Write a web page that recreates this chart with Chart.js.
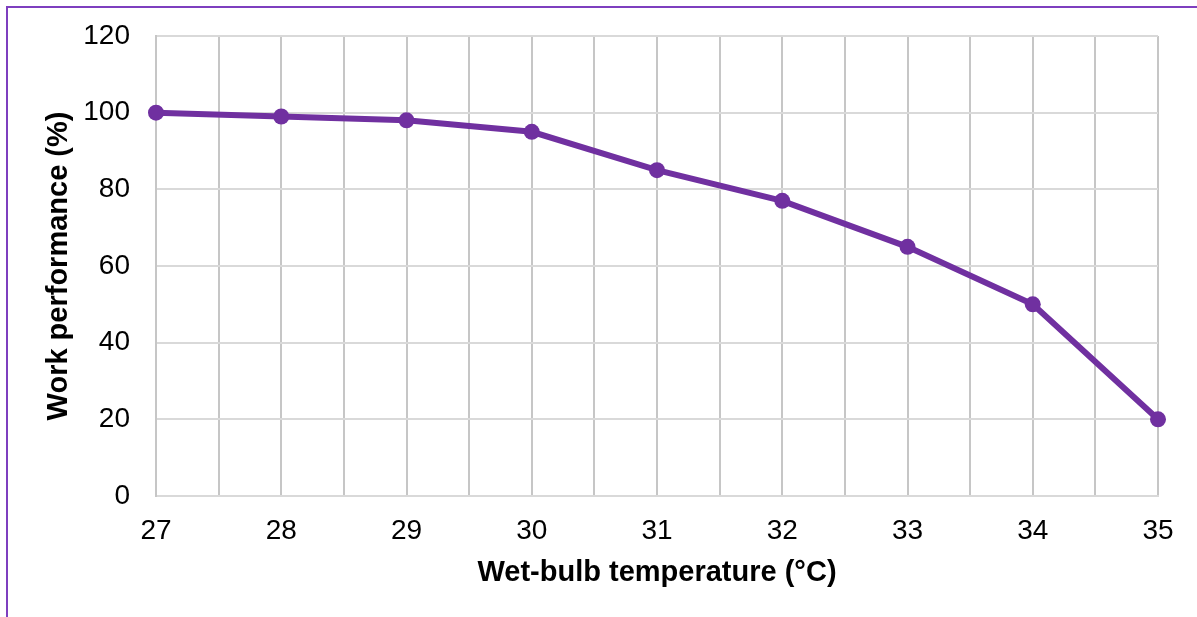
<!DOCTYPE html>
<html>
<head>
<meta charset="utf-8">
<script src="https://cdn.jsdelivr.net/npm/chart.js@4"></script>
<style>
  html, body { margin: 0; padding: 0; background: #fff; }
  #wrap { position: relative; width: 1197px; height: 617px; }
  #frame {
    position: absolute; left: 6px; top: 6px; right: 0; bottom: 0;
    border-top: 2px solid #7E3FBF; border-left: 2px solid #7E3FBF;
    pointer-events: none;
  }
</style>
</head>
<body>
<div id="wrap">
  <canvas id="perf_chart" width="1197" height="617"></canvas>
  <div id="frame"></div>
</div>
<script>
  // wet-bulb temperature (°C) vs work performance (%)
  const temps = [27, 28, 29, 30, 31, 32, 33, 34, 35];
  const performance = [100, 99, 98, 95, 85, 77, 65, 50, 20];

  const xTitle = "Wet-bulb temperature (°C)";
  const yTitle = "Work performance (%)";

  const lineColor = "#7030A0";
  const vGridColor = "#C6C6C6";
  const hGridColor = "#D9D9D9";
  const fontFamily = "'Liberation Sans', Arial, sans-serif";

  const points = temps.map((t, i) => ({ x: t, y: performance[i] }));

  window.perf_chart = new Chart(document.getElementById("perf_chart"), {
    type: "line",
    data: {
      datasets: [
        {
          data: points,
          borderColor: lineColor,
          backgroundColor: lineColor,
          borderWidth: 6,
          pointRadius: 8,
          pointBorderWidth: 0,
          fill: false,
          tension: 0,
          clip: false,
        },
      ],
    },
    options: {
      responsive: false,
      animation: false,
      devicePixelRatio: 1,
      layout: { padding: { left: 20, right: 39, top: 36, bottom: 20 } },
      plugins: { legend: { display: false }, tooltip: { enabled: false } },
      scales: {
        x: {
          type: "linear",
          min: 27,
          max: 35,
          afterFit: (scale) => {
            scale.height = 617 - 496 - 20;
            scale.paddingLeft = 0;
            scale.paddingRight = 0;
          },
          ticks: {
            stepSize: 0.5,
            autoSkip: false,
            maxRotation: 0,
            padding: 18,
            color: "#000",
            font: { family: fontFamily, size: 28 },
            callback: (v) => (v % 1 === 0 ? v : ""),
          },
          grid: { color: vGridColor, lineWidth: 2, drawTicks: false },
          border: { color: hGridColor, width: 2 },
          title: {
            display: true,
            text: xTitle,
            color: "#000",
            font: { family: fontFamily, size: 29, weight: "bold" },
            padding: { top: 0, bottom: 7 },
          },
        },
        y: {
          min: 0,
          max: 120,
          afterFit: (scale) => {
            scale.width = 156 - 20;
            scale.paddingTop = 0;
            scale.paddingBottom = 0;
          },
          ticks: {
            stepSize: 20,
            padding: 26,
            color: "#000",
            font: { family: fontFamily, size: 28 },
          },
          grid: { color: hGridColor, lineWidth: 2, drawTicks: false },
          border: { color: vGridColor, width: 2 },
          title: {
            display: true,
            text: yTitle,
            color: "#000",
            font: { family: fontFamily, size: 29, weight: "bold" },
            padding: { top: 22, bottom: 0 },
          },
        },
      },
    },
  });
</script>
</body>
</html>
